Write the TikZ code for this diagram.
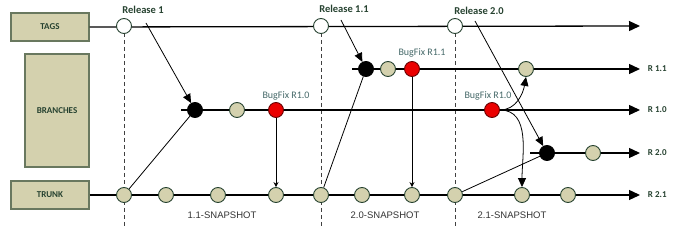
\documentclass[tikz,border=0pt]{standalone}
\usepackage{fontspec}
\setmainfont{Carlito}
\newfontfamily\snapfont{Liberation Sans}
\usetikzlibrary{arrows.meta}

\definecolor{boxfill}{RGB}{212,209,174}
\definecolor{boxline}{RGB}{105,120,95}
\definecolor{darkgreen}{RGB}{38,66,48}
\definecolor{fixtext}{RGB}{70,105,105}
\definecolor{fixred}{RGB}{235,0,0}

\begin{document}
\begin{tikzpicture}[x=1pt,y=-1pt,>=Stealth,
  lane/.style={draw=boxline,fill=boxfill,line width=1.2pt,text=darkgreen,
    font=\bfseries\fontsize{9}{11}\selectfont,inner sep=0pt},
  commit/.style={circle,draw=darkgreen,line width=0.9pt,fill=boxfill,
    minimum size=15pt,inner sep=0pt},
  tagc/.style={commit,fill=white},
  branchc/.style={commit,draw=black,fill=black},
  fixc/.style={commit,draw=black!60!red,fill=fixred},
  mainline/.style={line width=1.3pt,-{Triangle[length=11pt,width=10pt]}},
  relname/.style={text=darkgreen,font=\bfseries\fontsize{10.5}{12}\selectfont},
  fixname/.style={text=fixtext,font=\fontsize{10}{12}\selectfont},
  endname/.style={right,xshift=4pt,text=darkgreen,font=\bfseries\fontsize{9}{11}\selectfont},
  snapname/.style={text=black!80,font=\snapfont\fontsize{9.5}{11}\selectfont},
  link/.style={line width=0.8pt},
  guide/.style={dashed,dash pattern=on 4pt off 3pt,line width=0.8pt,black!75}]
  \useasboundingbox (0,0) rectangle (680,229);

  % left hand boxes
  \node[lane,minimum width=78pt,minimum height=28pt] (tags) at (50,27) {TAGS};
  \node[lane,minimum width=64pt,minimum height=113pt] (branches) at (57,110.5) {BRANCHES};
  \node[lane,minimum width=78pt,minimum height=28pt] (trunk) at (50,195) {TRUNK};

  % release guides
  \foreach \x in {124,321,455}
    \draw[guide] (\x,33) -- (\x,229);

  % lines
  \coordinate (s11) at (352,69);
  \coordinate (s10) at (181,110);
  \coordinate (s20) at (530,153);
  \draw[mainline] (tags.east) -- (640,26) coordinate (etags);
  \draw[mainline] (s11) -- (640,69) coordinate (e11) node[endname] (n11) {R 1.1};
  \draw[mainline] (s10) -- (640,110) coordinate (e10) node[endname] (n10) {R 1.0};
  \draw[mainline] (s20) -- (640,153) coordinate (e20) node[endname] (n20) {R 2.0};
  \draw[mainline] (trunk.east) -- (640,195) coordinate (e21) node[endname] (n21) {R 2.1};

  % tags
  \node[tagc] (tg1) at (124,26) {};
  \node[tagc] (tg2) at (321,26) {};
  \node[tagc] (tg3) at (455,26) {};
  \node[relname] (rel1) at (143,10) {Release 1};
  \node[relname] (rel11) at (344,9) {Release 1.1};
  \node[relname] (rel20) at (479,11) {Release 2.0};

  % branch R 1.1
  \node[branchc] (bk11) at (366,69) {};
  \node[commit] (c11a) at (388,69) {};
  \node[fixc] (fx11) at (412,69) {};
  \node[commit] (c11b) at (526,69) {};
  \node[fixname] (fn11) at (422,53) {BugFix R1.1};

  % branch R 1.0
  \node[branchc] (bk10) at (195,110) {};
  \node[commit] (c10a) at (237,110) {};
  \node[fixc] (fx10) at (276,110) {};
  \node[fixc] (fx10b) at (492,110) {};
  \node[fixname] (fn10) at (286,96) {BugFix R1.0};
  \node[fixname] (fn10b) at (488,96) {BugFix R1.0};

  % branch R 2.0
  \node[branchc] (bk20) at (547,153) {};
  \node[commit] (c20a) at (593,153) {};

  % trunk
  \foreach \x [count=\i] in {124,166,218,276,321,362,412,455,522,568}
    \node[commit] (t\i) at (\x,195) {};

  \node[snapname] (snap1) at (222,215) {1.1-SNAPSHOT};
  \node[snapname] (snap2) at (385,215) {2.0-SNAPSHOT};
  \node[snapname] (snap3) at (512,215) {2.1-SNAPSHOT};

  % branching off the trunk
  \draw[link] (t1) -- (bk10);
  \draw[link] (t5) -- (bk11);
  \draw[link] (t8) -- (bk20);

  % tags into branches
  \coordinate (a1) at (146,23);
  \coordinate (a11) at (341,20);
  \coordinate (a20) at (475,21);
  \draw[link,-{Triangle[length=9pt,width=8pt]}] (a1) -- (bk10);
  \draw[link,-{Triangle[length=9pt,width=8pt]}] (a11) -- (bk11);
  \draw[link,-{Triangle[length=9pt,width=8pt]}] (a20) -- (bk20);

  % bug fixes merged
  \draw[link,-{Stealth[length=5pt,width=5pt]}] (fx10) -- (t4);
  \draw[link,-{Stealth[length=5pt,width=5pt]}] (fx11) -- (t7);
  \draw[link,-{Triangle[length=9pt,width=8pt]}] (fx10b.east) to[out=0,in=-100] (c11b.south);
  \draw[link,-{Triangle[length=9pt,width=8pt]}] (fx10b.east) to[out=0,in=90] (t9.north);
\end{tikzpicture}
\end{document}
